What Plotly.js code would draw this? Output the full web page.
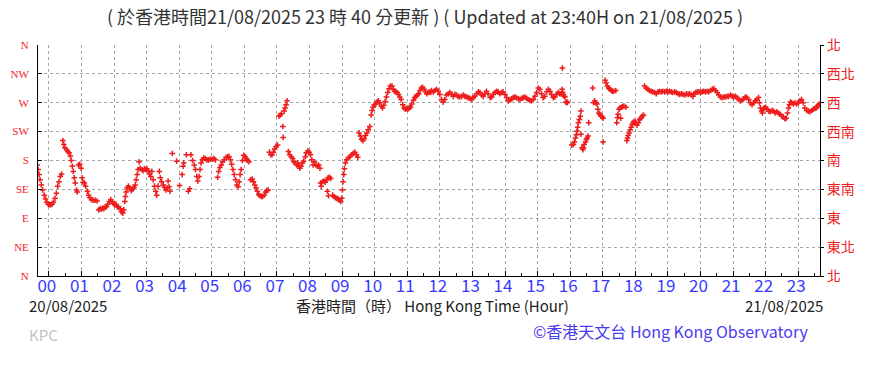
<!DOCTYPE html>
<html>
<head>
<meta charset="utf-8">
<script src="https://cdn.plot.ly/plotly-3.0.1.min.js"></script>
<style>html,body{margin:0;padding:0;background:#fff;}#chart{width:882px;height:381px;}</style>
</head>
<body>
<div id="chart"></div>
<script>
// Time (decimal hours, relative to 00:00 on 21/08/2025) and wind direction (degrees)
const timeHours = [
-0.36,-0.33,-0.30,-0.27,-0.23,-0.19,-0.14,-0.10,-0.06,-0.02,0.02,0.06,0.10,0.14,0.19,0.23,0.27,0.31,0.35,0.39,
0.43,0.46,0.49,0.54,0.58,0.62,0.66,0.69,0.72,0.75,0.78,0.81,0.85,0.87,0.91,0.95,0.99,
1.02,1.05,1.09,1.13,1.18,1.22,1.26,1.31,1.36,1.42,1.48,1.53,1.57,1.61,1.65,1.69,1.73,1.77,1.81,1.86,1.90,1.94,1.98,
2.02,2.06,2.10,2.14,2.19,2.23,2.27,2.30,2.33,2.35,2.37,2.40,2.44,2.48,2.53,2.57,2.61,2.65,2.68,2.71,2.74,2.77,2.80,2.85,2.89,2.93,2.97,
3.01,3.05,3.09,3.13,3.16,3.20,3.24,3.28,3.31,3.35,3.39,3.42,3.46,3.51,3.55,3.59,3.63,3.66,3.69,3.72,3.79,3.92,
4.01,4.09,4.12,4.14,4.22,4.28,4.32,4.36,4.41,4.46,4.50,4.54,4.57,4.61,4.64,4.67,4.71,4.75,4.80,4.85,4.90,4.95,
5.01,5.06,5.11,5.18,5.21,5.25,5.29,5.33,5.38,5.44,5.49,5.53,5.57,5.61,5.65,5.69,5.73,5.77,5.81,5.84,5.87,5.90,5.94,5.98,
6.02,6.06,6.10,6.14,6.19,6.24,6.28,6.32,6.36,6.40,6.44,6.48,6.52,6.56,6.61,6.65,6.69,6.73,6.77,6.81,6.85,6.89,6.93,6.97,
7.02,7.06,7.10,7.14,7.18,7.19,7.22,7.25,7.28,7.31,7.35,7.39,7.44,7.48,7.52,7.56,7.60,7.64,7.68,7.70,7.74,7.78,7.82,7.87,7.90,7.95,7.99,
8.03,8.07,8.11,8.15,8.20,8.24,8.28,8.32,8.34,8.36,8.40,8.44,8.48,8.53,8.55,8.57,8.58,8.61,8.65,8.71,8.75,8.79,8.84,8.88,8.92,8.96,8.99,
9.01,9.03,9.05,9.07,9.10,9.14,9.19,9.24,9.29,9.34,9.39,9.44,9.48,9.52,9.56,9.60,9.64,9.68,9.72,9.76,9.80,9.85,9.89,9.92,9.95,9.99,
10.03,10.07,10.11,10.15,10.20,10.24,10.28,10.32,10.36,10.40,10.44,10.48,10.53,10.57,10.61,10.65,10.69,10.73,10.77,10.81,10.86,10.90,10.94,10.98,
11.02,11.06,11.10,11.14,11.19,11.23,11.27,11.31,11.35,11.39,11.43,11.47,11.52,11.56,11.60,11.64,11.68,11.72,11.74,11.80,11.85,11.90,11.95,
12.00,12.05,12.10,12.15,12.20,12.26,12.31,12.36,12.41,12.46,12.51,12.56,12.61,12.67,12.72,12.77,12.82,12.87,12.92,12.97,
13.02,13.07,13.13,13.18,13.23,13.28,13.33,13.38,13.43,13.48,13.54,13.59,13.64,13.69,13.74,13.79,13.84,13.89,13.94,
14.00,14.05,14.10,14.15,14.20,14.25,14.30,14.35,14.41,14.46,14.51,14.56,14.61,14.66,14.71,14.76,14.81,14.87,14.92,14.97,
15.02,15.07,15.12,15.17,15.22,15.28,15.33,15.38,15.43,15.48,15.53,15.58,15.63,15.68,15.72,15.75,15.76,15.77,15.79,15.82,15.84,15.87,15.90,15.92,
16.05,16.10,16.13,16.16,16.19,16.21,16.23,16.25,16.28,16.31,16.33,16.33,16.36,16.39,16.41,16.43,16.47,16.50,16.52,16.55,16.57,16.69,
16.72,16.75,16.79,16.82,16.85,16.88,16.91,16.94,16.98,17.01,17.01,
17.07,17.10,17.14,17.18,17.22,17.26,17.30,17.34,17.40,17.43,17.45,17.47,17.50,17.53,17.55,17.57,17.61,17.65,17.71,
17.74,17.76,17.78,17.81,17.84,17.87,17.90,17.93,17.96,18.01,18.05,18.09,18.13,18.17,18.21,18.25,
18.28,18.33,18.38,18.43,18.48,18.53,18.59,18.64,18.69,18.74,18.79,18.84,18.90,18.95,
19.00,19.05,19.10,19.15,19.21,19.26,19.31,19.36,19.41,19.46,19.52,19.57,19.62,19.67,19.72,19.77,19.80,19.85,19.90,19.95,
20.00,20.05,20.10,20.15,20.20,20.25,20.31,20.36,20.41,20.46,20.51,20.56,20.61,20.66,20.71,20.76,20.81,20.86,20.92,20.97,
21.02,21.07,21.12,21.17,21.22,21.27,21.32,21.37,21.42,21.48,21.53,21.58,21.63,21.68,21.73,21.78,21.81,21.84,21.87,21.90,21.93,21.96,
22.00,22.04,22.09,22.14,22.19,22.24,22.29,22.34,22.39,22.44,22.49,22.54,22.59,22.63,22.67,22.70,22.73,22.76,22.80,22.85,22.90,22.95,
23.00,23.05,23.10,23.15,23.20,23.26,23.31,23.36,23.41,23.46,23.51,23.56,23.59,23.62,23.65
];
const dirDeg = [
173,166,158,150,142,134,126,120,115,112,111,111,112,115,121,129,140,147,155,159,
211,205,200,197,194,192,187,180,171,163,153,145,134,131,173,174,168,
153,146,145,140,132,126,122,119,118,118,117,103,105,104,106,105,108,108,112,116,119,116,113,
111,112,108,107,105,100,98,103,116,124,131,137,140,137,133,136,138,142,150,158,166,178,168,166,164,167,166,
167,164,159,155,163,150,140,132,126,140,163,153,147,142,138,134,137,148,139,132,191,179,
141,158,171,176,189,132,136,189,180,173,166,155,148,155,166,176,181,184,183,181,181,182,
182,183,181,154,163,169,173,178,181,185,186,186,181,174,166,158,150,142,139,147,158,166,180,188,
186,183,180,178,150,151,147,142,137,132,127,125,124,124,126,131,133,134,193,189,189,193,198,202,
204,249,251,253,233,216,257,262,267,273,194,189,186,183,178,176,173,176,171,168,171,176,179,186,192,195,193,
189,181,173,178,173,171,173,168,145,140,147,148,146,150,132,153,125,154,152,126,124,122,121,120,118,116,121,
134,147,158,167,176,181,184,186,189,191,193,189,185,223,218,213,211,214,219,223,228,233,251,258,263,267,
268,271,273,270,265,262,266,272,279,286,292,296,296,291,288,287,286,283,279,275,267,262,260,261,
260,262,263,268,274,278,280,282,284,289,293,294,291,287,284,286,287,286,289,287,289,291,288,
283,275,271,275,282,284,286,283,280,283,282,280,279,280,282,280,279,278,277,275,
278,280,284,287,286,282,280,284,288,284,278,279,283,286,288,287,284,286,287,
283,278,273,274,276,278,279,278,276,275,277,278,279,277,275,274,273,275,280,286,
293,291,284,278,280,287,291,288,283,278,279,283,286,284,284,291,324,286,283,280,279,271,270,271,
204,205,209,215,220,226,232,239,244,249,257,221,200,197,200,205,209,213,215,218,239,293,
270,273,270,268,260,254,252,249,248,246,209,
305,301,296,293,291,289,288,288,289,239,247,252,260,262,246,263,264,265,263,
211,215,219,223,228,232,236,239,241,239,235,239,244,246,249,251,
296,293,291,289,288,287,286,284,287,288,287,288,287,288,
287,288,287,286,287,286,284,283,284,283,282,284,283,284,282,280,284,286,287,287,
286,287,288,287,288,287,289,291,292,289,286,282,279,278,279,279,280,280,282,280,
279,280,278,275,273,274,276,279,278,275,270,267,270,273,275,278,270,262,257,254,260,262,
263,260,257,256,258,257,254,256,254,252,249,248,245,246,254,262,267,271,270,268,270,268,
270,273,275,270,262,258,257,256,258,260,261,262,265,267,268
];

// Axis tick values and labels
const hourTicks = [0,1,2,3,4,5,6,7,8,9,10,11,12,13,14,15,16,17,18,19,20,21,22,23];
const hourLabels = ['00','01','02','03','04','05','06','07','08','09','10','11','12','13','14','15','16','17','18','19','20','21','22','23'];
const dirTicks = [0,45,90,135,180,225,270,315,360];
const dirLabelsEn = ['N','NE','E','SE','S','SW','W','NW','N'];
const dirLabelsZh = ['北','東北','東','東南','南','西南','西','西北','北'];
const xRange = [-1/3, 23 + 2/3];

const FONT = '"Noto Sans CJK TC", "Noto Sans", sans-serif';
const RED = '#ee1c1c';
const GRID = '#a6a6a6';

const traces = [
  {
    x: timeHours, y: dirDeg, type: 'scatter', mode: 'markers',
    marker: {symbol: 'cross-thin', size: 4, color: RED, line: {width: 1.5, color: RED}},
    hoverinfo: 'skip'
  },
  {x: [], y: [], type: 'scatter', mode: 'markers', yaxis: 'y2', hoverinfo: 'skip'}
];

// plot area pixel geometry: x 38..820, y 45..276
const L = 38, R = 820, T = 45, B = 276;
const px = v => (v - L) / (R - L);
const py = v => (B - v) / (B - T);

const layout = {
  width: 882, height: 381,
  margin: {l: L, r: 882 - R, t: T, b: 381 - B, pad: 0},
  paper_bgcolor: '#ffffff', plot_bgcolor: '#ffffff',
  showlegend: false,
  title: {
    text: '( 於香港時間21/08/2025 23 時 40 分更新 ) ( Updated at 23:40H on 21/08/2025 )',
    x: 425 / 882, xref: 'container', xanchor: 'center',
    y: 1 - 18 / 381, yref: 'container', yanchor: 'middle',
    font: {family: FONT, size: 18, color: '#333333'}
  },
  xaxis: {
    range: xRange, tickmode: 'array', tickvals: hourTicks, ticktext: hourLabels,
    ticks: 'inside', ticklen: 5, tickcolor: '#000', tickwidth: 1,
    showline: true, linecolor: '#000', linewidth: 1, mirror: false,
    showgrid: true, gridcolor: GRID, griddash: 'dot', gridwidth: 1,
    zeroline: false, fixedrange: true,
    tickfont: {family: FONT, size: 17, color: '#3a3aff'},
    ticklabelstandoff: -5, ticklabelshift: -2,
    minor: {tickmode: 'linear', tick0: 0, dtick: 0.5, ticks: 'inside', ticklen: 3, tickcolor: '#000', showgrid: false}
  },
  yaxis: {
    range: [0, 360], tickmode: 'array', tickvals: dirTicks, ticktext: dirLabelsEn,
    ticks: 'inside', ticklen: 4, tickcolor: '#000',
    showline: true, linecolor: '#000', linewidth: 1,
    showgrid: true, gridcolor: GRID, griddash: 'dot', gridwidth: 1,
    zeroline: false, fixedrange: true,
    tickfont: {family: '"Liberation Serif", serif', size: 11, color: RED},
    ticklabelstandoff: 6
  },
  yaxis2: {
    overlaying: 'y', side: 'right', anchor: 'x',
    range: [0, 360], tickmode: 'array', tickvals: dirTicks, ticktext: dirLabelsZh,
    ticks: 'outside', ticklen: 3, tickcolor: '#000',
    showline: true, linecolor: '#000', linewidth: 1,
    showgrid: false, zeroline: false, fixedrange: true,
    tickfont: {family: '"Noto Sans CJK TC", sans-serif', size: 14, color: RED},
    ticklabelstandoff: 0
  },
  annotations: [
    {text: '20/08/2025', xref: 'paper', yref: 'paper', x: px(27), y: py(305), xanchor: 'left', yanchor: 'middle', showarrow: false,
     font: {family: FONT, size: 15, color: '#222'}},
    {text: '香港時間（時） Hong Kong Time (Hour)', xref: 'paper', yref: 'paper', x: px(432), y: py(305), xanchor: 'center', yanchor: 'middle', showarrow: false,
     font: {family: FONT, size: 15, color: '#222'}},
    {text: '21/08/2025', xref: 'paper', yref: 'paper', x: px(825), y: py(305), xanchor: 'right', yanchor: 'middle', showarrow: false,
     font: {family: FONT, size: 15, color: '#222'}},
    {text: 'KPC', xref: 'paper', yref: 'paper', x: px(27), y: py(334), xanchor: 'left', yanchor: 'middle', showarrow: false,
     font: {family: FONT, size: 15, color: '#c4c4c4'}},
    {text: '©香港天文台 Hong Kong Observatory', xref: 'paper', yref: 'paper', x: px(811), y: py(331), xanchor: 'right', yanchor: 'middle', showarrow: false,
     font: {family: FONT, size: 16, color: '#4a3cf0'}}
  ]
};

Plotly.newPlot('chart', traces, layout, {staticPlot: true, displayModeBar: false});
</script>
</body>
</html>
